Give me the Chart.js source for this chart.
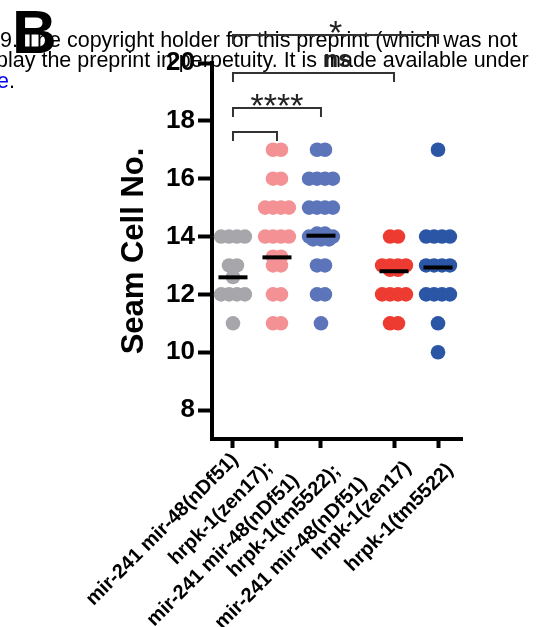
<!DOCTYPE html>
<html>
<head>
<meta charset="utf-8">
<script src="https://cdn.jsdelivr.net/npm/chart.js@4.4.0/dist/chart.umd.min.js"></script>
<style>
  html, body { margin: 0; padding: 0; background: #fff; }
  #wrap { width: 541px; height: 627px; }
</style>
</head>
<body>
<div id="wrap"><canvas id="seamChart" width="541" height="627"></canvas></div>
<script>
// strains on the x axis
const groupLabels = [
    ['mir-241 mir-48(nDf51)'],
    ['hrpk-1(zen17);', 'mir-241 mir-48(nDf51)'],
    ['hrpk-1(tm5522);', 'mir-241 mir-48(nDf51)'],
    ['hrpk-1(zen17)'],
    ['hrpk-1(tm5522)']
];
const groupColors = ['#a7a7ab', '#f39194', '#5c74b9', '#ee3b31', '#2b55a5'];

// seam cell counts, one entry per animal
const nDf51 = [14, 14, 14, 14, 13, 13, 12.6, 12, 12, 12, 12, 11];
const zen17nDf51 = [17, 17, 16, 16, 15, 15, 15, 15, 14, 14, 14, 14, 13.3, 13.3, 13, 13, 12, 12, 11, 11];
const tm5522nDf51 = [17, 17, 16, 16, 16, 16, 15, 15, 15, 15, 14.1, 14.1, 14, 14, 14, 14, 13.9, 13.9, 13.9, 13, 13, 12, 12, 11];
const zen17 = [14, 14, 13, 13, 13, 13, 12.85, 12.85, 12, 12, 12, 12, 11, 11];
const tm5522 = [17, 14, 14, 14, 14, 13, 13, 13, 13, 12, 12, 12, 12, 11, 10];
const groupValues = [nDf51, zen17nDf51, tm5522nDf51, zen17, tm5522];

// black mean bars
const groupMeans = [12.59, 13.28, 14.03, 12.8, 12.93];

const yTicks = [8, 10, 12, 14, 16, 18, 20];

// significance brackets
const comparisons = [
    { from: 0, to: 4, text: '*' },
    { from: 0, to: 3, text: 'ns' },
    { from: 0, to: 2, text: '****' },
    { from: 0, to: 1, text: '' }
];

const FONT = '"Liberation Sans", Arial, sans-serif';
const GAP = 0.66;        // extra space before the single mutants
const JITTER = 0.18;     // horizontal step between dots of the same value
const MEAN_HALF = 0.33;

const groupPos = groupLabels.map((_, i) => i + (i >= 3 ? GAP : 0));

function spread(values, center) {
    const counts = {};
    values.forEach(v => counts[v] = (counts[v] || 0) + 1);
    const seen = {};
    return values.map(v => {
        seen[v] = (seen[v] || 0) + 1;
        const off = (seen[v] - 1 - (counts[v] - 1) / 2) * JITTER;
        return { x: center + off, y: v };
    });
}

const pointSets = groupValues.map((vals, i) => ({
    type: 'scatter',
    data: spread(vals, groupPos[i]),
    backgroundColor: groupColors[i],
    pointRadius: 7.3,
    pointBorderWidth: 0,
    order: 1
}));

const meanSets = groupMeans.map((m, i) => ({
    type: 'line',
    data: [{ x: groupPos[i] - MEAN_HALF, y: m }, { x: groupPos[i] + MEAN_HALF, y: m }],
    borderColor: '#000',
    borderWidth: 4,
    pointRadius: 0,
    showLine: true,
    order: 0
}));

// where the end of each rotated label sits, relative to its tick
const labelShift = [[2, 18], [-8, 26], [16, 29], [14, 26], [12, 28]];

const overlay = {
    id: 'overlay',
    beforeDraw(chart) {
        // leftover page text behind the panel
        const ctx = chart.ctx;
        ctx.save();
        ctx.font = '21.5px ' + FONT;
        ctx.fillStyle = '#000';
        ctx.textBaseline = 'alphabetic';
        ctx.fillText('9. The copyright holder for this preprint (which was not', 0, 47);
        ctx.fillText('play the preprint in perpetuity. It is made available under', -4, 67);
        ctx.fillStyle = '#0000ee';
        ctx.fillText('e', -3, 88);
        ctx.fillStyle = '#000';
        ctx.fillText('.', -3 + ctx.measureText('e').width, 88);
        ctx.restore();
    },
    afterDraw(chart) {
        const ctx = chart.ctx;
        const xs = chart.scales.x;
        const area = chart.chartArea;
        ctx.save();

        // rotated category labels
        ctx.fillStyle = '#000';
        ctx.font = 'bold 20px ' + FONT;
        ctx.textAlign = 'right';
        ctx.textBaseline = 'middle';
        groupLabels.forEach((lines, i) => {
            const px = xs.getPixelForValue(groupPos[i]) + labelShift[i][0];
            const py = area.bottom + labelShift[i][1];
            ctx.save();
            ctx.translate(px, py);
            ctx.rotate(-Math.PI / 4);
            lines.forEach((t, j) => ctx.fillText(t, j * 10, j * 28));
            ctx.restore();
        });

        // brackets
        const bracketY = [35, 73, 108, 132];
        ctx.strokeStyle = '#333';
        ctx.lineWidth = 2;
        comparisons.forEach((c, k) => {
            const x1 = xs.getPixelForValue(groupPos[c.from]);
            const x2 = xs.getPixelForValue(groupPos[c.to]);
            const y = bracketY[k];
            ctx.beginPath();
            ctx.moveTo(x1, y + 9);
            ctx.lineTo(x1, y);
            ctx.lineTo(x2, y);
            ctx.lineTo(x2, y + 9);
            ctx.stroke();
        });
        ctx.fillStyle = '#222';
        ctx.textAlign = 'center';
        ctx.textBaseline = 'alphabetic';
        const mid = k => (xs.getPixelForValue(groupPos[comparisons[k].from]) + xs.getPixelForValue(groupPos[comparisons[k].to])) / 2;
        ctx.font = '34px ' + FONT;
        ctx.fillText(comparisons[0].text, mid(0), 44);
        ctx.fillText(comparisons[2].text, mid(2), 117);
        ctx.font = 'bold 24px ' + FONT;
        ctx.fillText(comparisons[1].text, mid(1) + 24, 67);

        // panel letter
        ctx.fillStyle = '#000';
        ctx.textAlign = 'left';
        ctx.font = 'bold 62px ' + FONT;
        ctx.fillText('B', 12, 53);
        ctx.restore();
    }
};

new Chart(document.getElementById('seamChart'), {
    type: 'scatter',
    data: { datasets: [...meanSets, ...pointSets] },
    plugins: [overlay],
    options: {
        responsive: false,
        devicePixelRatio: 1,
        animation: false,
        events: [],
        layout: { padding: { top: 63, right: 79, left: 0, bottom: 0 } },
        plugins: { legend: { display: false }, tooltip: { enabled: false } },
        scales: {
            x: {
                type: 'linear',
                min: -0.477,
                max: 5.205,
                afterBuildTicks: s => { s.ticks = groupPos.map(v => ({ value: v })); },
                afterFit: s => { s.height = 188; },
                ticks: { display: false },
                grid: { drawOnChartArea: false, tickLength: 9, tickWidth: 4, tickColor: '#000' },
                border: { display: true, width: 4, color: '#000' }
            },
            y: {
                min: 7,
                max: 20,
                afterBuildTicks: s => { s.ticks = yTicks.map(v => ({ value: v })); },
                afterFit: s => { s.width = 212; },
                ticks: { padding: 3, color: '#000', font: { family: FONT, size: 26, weight: 'bold' } },
                grid: { drawOnChartArea: false, tickLength: 14, tickWidth: 4, tickColor: '#000' },
                border: { display: true, width: 4, color: '#000' },
                title: {
                    display: true,
                    text: 'Seam Cell No.',
                    color: '#000',
                    font: { family: FONT, size: 31, weight: 'bold' },
                    padding: { top: 116, bottom: 0 }
                }
            }
        }
    }
});
</script>
</body>
</html>
